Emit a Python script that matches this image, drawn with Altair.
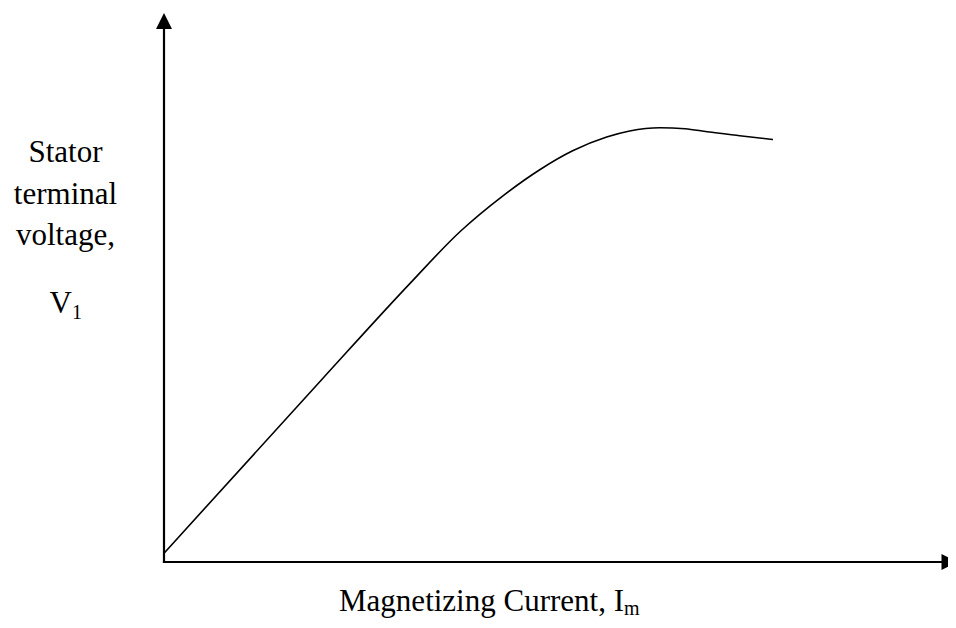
import altair as alt
import pandas as pd

# Magnetizing characteristic (arbitrary units)
current = [0.0, 19.9, 31.1, 37.4, 42.8, 47.5, 51.6, 55.9, 58.8, 62.6, 65.8, 68.6, 72.7, 76.9]
voltage = [1.6, 33.2, 50.8, 60.2, 66.7, 71.5, 74.9, 77.4, 78.5, 79.1, 78.92, 78.36, 77.65, 76.95]

# axis line extents and arrow tips (data units)
axis_x_end = 99.0
axis_y_end = 98.0
arrow_x_tip = 100.2
arrow_y_tip = 100.0

y_label_lines = ["Stator", "terminal", "voltage,"]
y_symbol = "V"
y_sub = "1"
x_label = "Magnetizing Current, I"
x_sub = "m"

W, H = 784, 549
FONT = "Liberation Serif"

xs = alt.Scale(domain=[0, 99], nice=False, zero=False)
ys = alt.Scale(domain=[0, 100], nice=False, zero=False)

curve = alt.Chart(pd.DataFrame({"I": current, "V": voltage})).mark_line(
    color="black", strokeWidth=1.6, interpolate="monotone"
).encode(
    x=alt.X("I:Q", scale=xs, axis=None),
    y=alt.Y("V:Q", scale=ys, axis=None),
)

axes_df = pd.DataFrame({"x": [0, 0], "y": [0, 0], "x2": [0, axis_x_end], "y2": [axis_y_end, 0]})
axes = alt.Chart(axes_df).mark_rule(color="black", strokeWidth=2.2, strokeCap="square").encode(
    x=alt.X("x:Q", scale=xs, axis=None),
    y=alt.Y("y:Q", scale=ys, axis=None),
    x2="x2:Q",
    y2="y2:Q",
)

arrow_up = alt.Chart(pd.DataFrame({"x": [0], "y": [arrow_y_tip]})).mark_point(
    shape="M0,0L-1,2L1,2Z", size=256, filled=True, color="black", opacity=1, strokeWidth=0
).encode(x=alt.X("x:Q", scale=xs, axis=None), y=alt.Y("y:Q", scale=ys, axis=None))

arrow_right = alt.Chart(pd.DataFrame({"x": [arrow_x_tip], "y": [0]})).mark_point(
    shape="M0,0L-2,-1L-2,1Z", size=256, filled=True, color="black", opacity=1, strokeWidth=0
).encode(x=alt.X("x:Q", scale=xs, axis=None), y=alt.Y("y:Q", scale=ys, axis=None))


def label(text, px, py, size, align):
    return alt.Chart(pd.DataFrame({"t": [text]})).mark_text(
        font=FONT, fontSize=size, align=align, baseline="alphabetic", color="black"
    ).encode(text="t:N", x=alt.value(px), y=alt.value(py))


texts = []
for i, line in enumerate(y_label_lines):
    texts.append(label(line, -98.5, 149 + i * 41.5, 31, "center"))
texts.append(label(y_symbol, -92, 300, 31, "right"))
texts.append(label(y_sub, -92, 306, 20, "left"))
texts.append(label(x_label, 460, 598, 31, "right"))
texts.append(label(x_sub, 460, 602, 20, "left"))

chart = alt.layer(axes, curve, arrow_up, arrow_right, *texts).properties(
    width=W,
    height=H,
    autosize=alt.AutoSizeParams(type="none"),
    padding={"left": 156, "top": 5, "right": 0, "bottom": 56},
    background="white",
).configure_view(stroke=None)

chart.save("out.html", embed_options={"renderer": "svg", "actions": False})
